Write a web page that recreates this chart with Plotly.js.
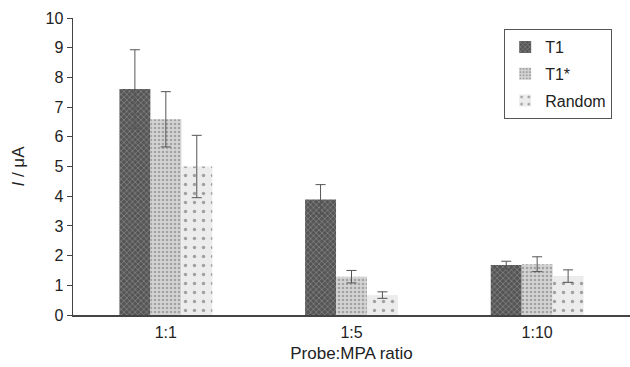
<!DOCTYPE html>
<html>
<head>
<meta charset="utf-8">
<script src="https://cdn.plot.ly/plotly-3.0.1.min.js"></script>
<style>html,body{margin:0;padding:0;background:#fff;}#chart{width:630px;height:367px;}</style>
</head>
<body>
<div id="chart"></div>
<script>
var categories = ["1:1", "1:5", "1:10"];
var seriesNames = ["T1", "T1*", "Random"];
var t1Values = [7.61, 3.89, 1.68];
var t1Errors = [1.32, 0.5, 0.13];
var t1StarValues = [6.59, 1.29, 1.71];
var t1StarErrors = [0.93, 0.21, 0.25];
var randomValues = [5.0, 0.67, 1.31];
var randomErrors = [1.05, 0.11, 0.21];
var yTicks = [0, 1, 2, 3, 4, 5, 6, 7, 8, 9, 10];

var errStyle = {color: "#555", thickness: 1, width: 5};
function mk(name, vals, errs, bg, fg, shape, size, sol) {
  return {
    type: "bar", name: name, legendgroup: name, x: categories, y: vals,
    error_y: Object.assign({type: "data", array: errs, visible: true}, errStyle),
    marker: {color: bg, line: {width: 0},
      pattern: {shape: shape, bgcolor: bg, fgcolor: fg, size: size, solidity: sol, fillmode: "overlay"}}
  };
}
var data = [
  mk(seriesNames[0], t1Values, t1Errors, "#555555", "#a8a8a8", "x", 4, 0.4),
  mk(seriesNames[1], t1StarValues, t1StarErrors, "#d4d4d4", "#707070", ".", 4, 0.35),
  mk(seriesNames[2], randomValues, randomErrors, "#ececec", "#555555", ".", 9, 0.12)
];
var layout = {
  width: 630, height: 367,
  margin: {l: 73, r: 0, t: 18, b: 52},
  paper_bgcolor: "#fff", plot_bgcolor: "#fff",
  font: {family: "Liberation Sans, Arial, sans-serif", size: 15, color: "#222"},
  barmode: "group", bargap: 0.5, bargroupgap: 0,
  showlegend: true,
  legend: {x: 0.968, y: 0.963, xanchor: "right", yanchor: "top",
    bordercolor: "#555", borderwidth: 1, bgcolor: "#fff", traceorder: "grouped",
    font: {size: 16, color: "#222"}, tracegroupgap: 3, itemwidth: 30},
  xaxis: {
    showline: true, linecolor: "#444", linewidth: 1.5,
    ticks: "", showgrid: false, zeroline: false,
    tickfont: {size: 16}, ticklabelstandoff: 2,
    title: {text: "Probe:MPA ratio", font: {size: 17}, standoff: 7}
  },
  yaxis: {
    range: [0, 10], tickvals: yTicks, ticktext: yTicks.map(String),
    showline: true, linecolor: "#444", linewidth: 1.5,
    ticks: "outside", ticklen: 5, tickcolor: "#444",
    showgrid: false, zeroline: false, tickfont: {size: 16},
    title: {text: "<i>I</i> / μA", font: {size: 17}, standoff: 16}
  }
};
Plotly.newPlot("chart", data, layout, {displayModeBar: false, staticPlot: true});
</script>
</body>
</html>
